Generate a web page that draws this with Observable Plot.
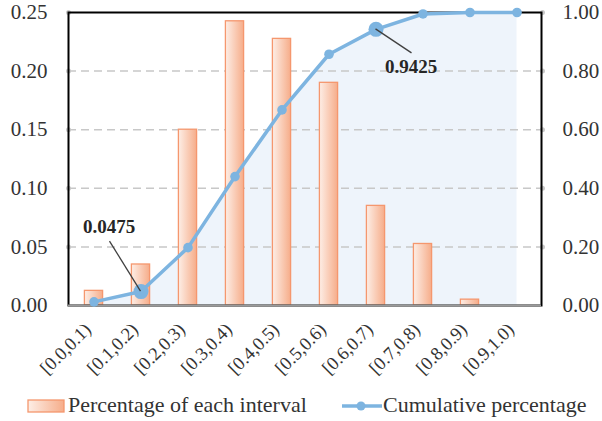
<!DOCTYPE html>
<html><head><meta charset="utf-8">
<script src="https://cdn.jsdelivr.net/npm/d3@7"></script>
<script src="https://cdn.jsdelivr.net/npm/@observablehq/plot@0.6"></script>
<style>
body{margin:0;background:#fff;font-family:"Liberation Serif",serif;}
#wrap{position:relative;width:602px;height:421px;overflow:hidden;}
#wrap svg, #wrap svg text{font-family:"Liberation Serif",serif !important;}
.lg{position:absolute;font-size:22px;line-height:22px;color:#333;white-space:nowrap;}
</style>
</head><body>
<svg width="0" height="0" style="position:absolute">
  <defs>
    <linearGradient id="barGrad" x1="0" y1="0" x2="1" y2="0">
      <stop offset="0" stop-color="#fdeee6"/>
      <stop offset="1" stop-color="#f6ad8a"/>
    </linearGradient>
  </defs>
</svg>
<div id="wrap"></div>
<script>
const categories = ["[0.0,0.1)","[0.1,0.2)","[0.2,0.3)","[0.3,0.4)","[0.4,0.5)","[0.5,0.6)","[0.6,0.7)","[0.7,0.8)","[0.8,0.9)","[0.9,1.0)"];
const percentages = [0.0125,0.035,0.15,0.2425,0.2275,0.19,0.085,0.0525,0.005,0];
const cumulative = [0.0125,0.0475,0.1975,0.44,0.6675,0.8575,0.9425,0.995,1.0,1.0];
const leftTicks = [0,0.05,0.10,0.15,0.20,0.25];
const rightTicks = [0,0.2,0.4,0.6,0.8,1.0];
const highlighted = ["[0.1,0.2)","[0.6,0.7)"];
const seriesNames = ["Percentage of each interval","Cumulative percentage"];

const ratio = 0.25 / 1.0;
const data = categories.map((c,i)=>({cat:c, pct:percentages[i], cum:cumulative[i]}));
const hi = data.filter(d=>highlighted.includes(d.cat));
const BLUE = "#7db4e0", ORANGE = "#f5976e";

const leaderOff = [[-31,-50],[36,24]];
const labelOff = [[-32,-65],[35,38]];

function leaders(index, scales) {
  const sx = scales.x, sy = scales.y;
  const bw = typeof sx.bandwidth === "function" ? sx.bandwidth() : (sx.bandwidth || 0);
  const g = document.createElementNS("http://www.w3.org/2000/svg","g");
  hi.forEach((d,i)=>{
    const cx = sx(d.cat) + bw/2, cy = sy(d.cum*ratio);
    const l = document.createElementNS("http://www.w3.org/2000/svg","line");
    l.setAttribute("x1",cx); l.setAttribute("y1",cy);
    l.setAttribute("x2",cx+leaderOff[i][0]); l.setAttribute("y2",cy+leaderOff[i][1]);
    l.setAttribute("stroke","#404040"); l.setAttribute("stroke-width","1.3");
    g.appendChild(l);
  });
  return g;
}

const chart = Plot.plot({
  width: 602, height: 388,
  marginTop: 12, marginBottom: 83, marginLeft: 68, marginRight: 61,
  style: {fontFamily: "Liberation Serif", fontSize: "21px", color: "#333", background: "white", overflow: "visible"},
  x: {type: "band", domain: categories, padding: 0},
  y: {domain: [0, 0.25]},
  marks: [
    Plot.areaY(data, {x: "cat", y: d=>d.cum*ratio, fill: "#eef4fb"}),
    Plot.gridY({ticks: leftTicks.slice(1,5), stroke: "#c8c8c8", strokeOpacity: 1, strokeWidth: 1.5, strokeDasharray: "8,5"}),
    Plot.dot(leftTicks.slice(1), {y: d=>d, frameAnchor: "left", r: 2.5, fill: "#c8c8c8"}),
    Plot.dot(leftTicks.slice(1), {y: d=>d, frameAnchor: "right", dx: 1, r: 2.5, fill: "#c8c8c8"}),
    Plot.barY(data.filter(d=>d.pct>0), {x: "cat", y: "pct", fill: "url(#barGrad)", stroke: ORANGE, strokeWidth: 1.3, insetLeft: 14.4, insetRight: 14.4}),
    Plot.frame({stroke: "#000", strokeWidth: 2}),
    Plot.ruleY([0], {stroke: "#9a9a9a", strokeWidth: 2}),
    Plot.line(data, {x: "cat", y: d=>d.cum*ratio, stroke: BLUE, strokeWidth: 3.5}),
    Plot.dot(data, {x: "cat", y: d=>d.cum*ratio, r: 4.8, fill: BLUE}),
    Plot.dot(hi, {x: "cat", y: d=>d.cum*ratio, r: 7.5, fill: BLUE}),
    leaders,
    Plot.text(hi, {x: "cat", y: d=>d.cum*ratio, text: d=>d3.format(".4f")(d.cum), fontWeight: "bold", fontSize: 19, fill: "#262626"}),
    Plot.axisY({anchor: "left", ticks: leftTicks, tickFormat: d3.format(".2f"), tickSize: 0, tickPadding: 21, label: null}),
    Plot.axisY({anchor: "right", ticks: rightTicks.map(v=>v*ratio), tickFormat: v=>d3.format(".2f")(v/ratio), tickSize: 0, tickPadding: 21, label: null}),
    Plot.axisX({tickRotate: -45, tickSize: 0, tickPadding: 16, dx: -6, dy: 5, fontSize: 18.5, label: null})
  ]
});
document.getElementById("wrap").appendChild(chart);

(function(){
  const tg = Array.from(chart.querySelectorAll("g[aria-label='text'] text"));
  tg.forEach((t,i)=>{
    const tr = t.getAttribute("transform") || "";
    t.setAttribute("transform", tr + ` translate(${labelOff[i][0]},${labelOff[i][1]})`);
  });
})();

const wrap = document.getElementById("wrap");
const sw = document.createElement("div");
sw.innerHTML = `<svg width="40" height="16" style="position:absolute;left:26px;top:398px"><rect x="2" y="2" width="36" height="12" fill="url(#barGrad)" stroke="${ORANGE}" stroke-width="1.3"/></svg>
<div class="lg" style="left:68px;top:394px">${seriesNames[0]}</div>
<svg width="42" height="16" style="position:absolute;left:341px;top:398px"><line x1="1" y1="8" x2="41" y2="8" stroke="${BLUE}" stroke-width="3.5"/><circle cx="20" cy="8" r="4.5" fill="${BLUE}"/></svg>
<div class="lg" style="left:383px;top:394px">${seriesNames[1]}</div>`;
wrap.appendChild(sw);
</script>
</body></html>
